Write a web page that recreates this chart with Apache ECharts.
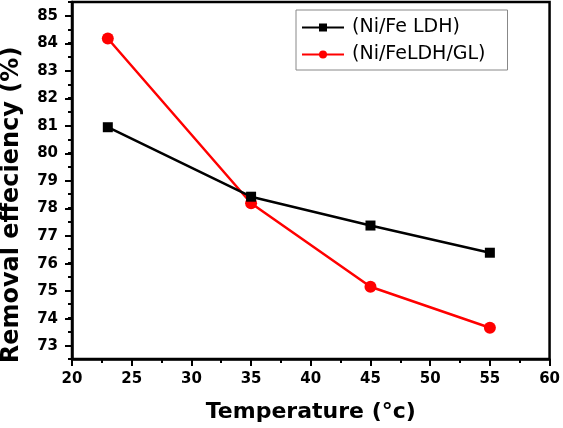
<!DOCTYPE html>
<html>
<head>
<meta charset="utf-8">
<script src="https://cdn.jsdelivr.net/npm/echarts@6/dist/echarts.min.js"></script>
<style>
html,body{margin:0;padding:0;background:#fff;}
#chart{width:563px;height:428px;}
</style>
</head>
<body>
<div id="chart"></div>
<script>
const temperatures = [23, 35, 45, 55];
const ldhValues = [80.94, 78.41, 77.36, 76.37];
const ldhGlValues = [84.17, 78.17, 75.13, 73.64];
const seriesNames = ['(Ni/Fe LDH)', '(Ni/FeLDH/GL)'];
const xTitle = 'Temperature (°c)';
const yTitle = 'Removal effeciency (%)';

const FONT = 'DejaVu Sans';
const chart = echarts.init(document.getElementById('chart'));

// grid geometry: main plot area spans y values 72.5..85.5
const gTop = 2, gBottom = 68, plotH = 428 - gTop - gBottom;
const unit = plotH / 13;

chart.setOption({
  animation: false,
  backgroundColor: '#fff',
  grid: [
    {left: 72, right: 10, top: gTop, bottom: gBottom, show: true, borderColor: '#000', borderWidth: 2.5, containLabel: false},
    {left: 72, right: 10, top: gTop + 0.5 * unit, bottom: gBottom + 0.5 * unit, show: false, containLabel: false}
  ],
  legend: {
    orient: 'vertical',
    left: 296, top: 10,
    padding: [8, 22, 6, 5],
    itemWidth: 42, itemHeight: 10, itemGap: 8,
    borderColor: '#888', borderWidth: 1,
    data: seriesNames,
    textStyle: {fontFamily: FONT, fontSize: 19, color: '#000', padding: [0, 0, 0, 3]}
  },
  xAxis: [
    {
      gridIndex: 0, type: 'value', min: 20, max: 60, interval: 5,
      name: xTitle, nameLocation: 'middle', nameGap: 42,
      nameTextStyle: {fontFamily: FONT, fontWeight: 'bold', fontSize: 22, color: '#000'},
      axisLine: {show: true, onZero: false, lineStyle: {color: '#000', width: 2.5}},
      axisTick: {show: true, inside: false, length: 7, lineStyle: {color: '#000', width: 2}},
      minorTick: {show: true, splitNumber: 2, length: 4, lineStyle: {color: '#000', width: 2}},
      axisLabel: {fontFamily: FONT, fontWeight: 'bold', fontSize: 15, color: '#000', margin: 13},
      splitLine: {show: false}
    },
    {gridIndex: 1, type: 'value', min: 20, max: 60, show: false}
  ],
  yAxis: [
    {
      gridIndex: 0, type: 'value', min: 72.5, max: 85.5, interval: 0.5,
      axisLine: {show: true, onZero: false, lineStyle: {color: '#000', width: 2.5}},
      axisTick: {show: true, inside: false, length: 4, lineStyle: {color: '#000', width: 2}},
      axisLabel: {show: false},
      splitLine: {show: false}
    },
    {
      gridIndex: 1, type: 'value', min: 73, max: 85, interval: 1,
      axisLine: {show: false},
      axisTick: {show: true, inside: false, length: 7, lineStyle: {color: '#000', width: 2}},
      axisLabel: {fontFamily: FONT, fontWeight: 'bold', fontSize: 15, color: '#000', margin: 14},
      splitLine: {show: false}
    }
  ],
  graphic: [{
    type: 'text', x: 12, y: 205, rotation: Math.PI / 2,
    style: {text: yTitle, fontFamily: FONT, fontWeight: 'bold', fontSize: 24, fill: '#000', textAlign: 'center', textVerticalAlign: 'middle'}
  }],
  series: [
    {
      name: seriesNames[1], type: 'line', xAxisIndex: 0, yAxisIndex: 0,
      data: temperatures.map((t, i) => [t, ldhGlValues[i]]),
      symbol: 'circle', symbolSize: 12,
      lineStyle: {color: '#ff0000', width: 2.5},
      itemStyle: {color: '#ff0000'}
    },
    {
      name: seriesNames[0], type: 'line', xAxisIndex: 0, yAxisIndex: 0,
      data: temperatures.map((t, i) => [t, ldhValues[i]]),
      symbol: 'rect', symbolSize: 10,
      lineStyle: {color: '#000', width: 2.5},
      itemStyle: {color: '#000'}
    }
  ]
});
</script>
</body>
</html>
